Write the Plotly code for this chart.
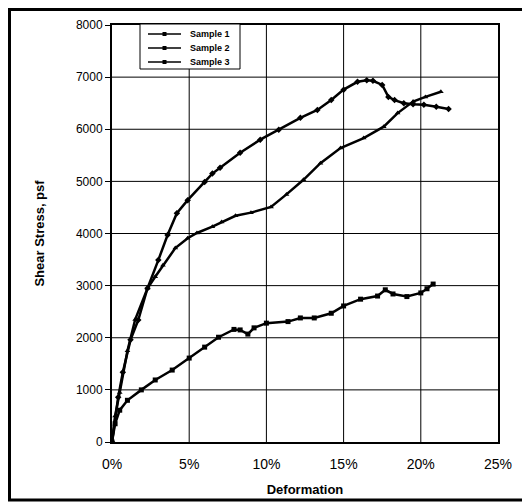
import plotly.graph_objects as go

# Deformation (%) and shear stress (psf)
s1_x = [0, 0.4, 0.7, 1.2, 1.7, 2.3, 3.0, 3.6, 4.2, 4.9, 6.0, 6.5, 7.0, 8.3, 9.6, 10.8,
        12.2, 13.3, 14.2, 15.0, 15.9, 16.5, 16.9, 17.5, 17.9, 18.3, 18.9, 19.5, 20.2, 21.0, 21.8]
s1_y = [0, 860, 1340, 1960, 2340, 2950, 3490, 3970, 4390, 4640, 4990, 5150, 5260, 5550, 5800, 5990,
        6220, 6370, 6560, 6760, 6910, 6940, 6930, 6850, 6620, 6560, 6500, 6480, 6470, 6430, 6390]

s2_x = [0, 0.2, 0.5, 1.0, 1.9, 2.8, 3.9, 5.0, 6.0, 6.9, 7.9, 8.3, 8.8, 9.2, 10.0, 11.4,
        12.2, 13.1, 14.2, 15.0, 16.1, 17.2, 17.7, 18.2, 19.1, 20.0, 20.4, 20.8]
s2_y = [0, 350, 610, 800, 1000, 1190, 1380, 1610, 1820, 2010, 2160, 2150, 2070, 2190, 2280, 2310,
        2380, 2380, 2470, 2610, 2740, 2800, 2920, 2840, 2790, 2860, 2940, 3030]

s3_x = [0, 0.2, 0.5, 1.0, 1.5, 2.3, 2.8, 3.3, 4.1, 4.9, 5.5, 6.5, 7.1, 8.0, 9.0, 10.3,
        11.3, 12.4, 13.5, 14.8, 16.3, 17.6, 18.5, 19.5, 20.3, 21.3]
s3_y = [0, 500, 950, 1750, 2350, 2950, 3170, 3390, 3720, 3910, 4010, 4130, 4220, 4340, 4400, 4510,
        4750, 5030, 5350, 5640, 5830, 6050, 6310, 6530, 6620, 6720]

series_names = ["Sample 1", "Sample 2", "Sample 3"]
series_x = [s1_x, s2_x, s3_x]
series_y = [s1_y, s2_y, s3_y]
series_symbols = ["diamond", "square", "triangle-up"]

x_ticks = [0, 0.05, 0.10, 0.15, 0.20, 0.25]
y_ticks = [0, 1000, 2000, 3000, 4000, 5000, 6000, 7000, 8000]

FONT = "Liberation Sans, Arial, sans-serif"

# figure / plot-area geometry (pixels)
W, H = 522, 496
ML, MR, MT, MB = 104, 32, 17, 62
PW, PH = W - ML - MR, H - MT - MB


def px(fx):
    return (fx - ML) / PW


def py(fy):
    return (H - MB - fy) / PH


fig = go.Figure()
for name, xs, ys, sym in zip(series_names, series_x, series_y, series_symbols):
    fig.add_trace(go.Scatter(
        x=[v / 100 for v in xs], y=ys, name=name, mode="lines+markers",
        line=dict(color="black", width=2.5),
        marker=dict(symbol=sym, size=5, color="black"),
        showlegend=False,
    ))

shapes = []
# grid lines at the tick positions
for v in x_ticks[1:-1]:
    shapes.append(dict(type="line", xref="x", yref="paper", x0=v, x1=v, y0=0, y1=1,
                       line=dict(color="black", width=1), layer="below"))
for v in y_ticks[1:-1]:
    shapes.append(dict(type="line", xref="paper", yref="y", x0=0, x1=1, y0=v, y1=v,
                       line=dict(color="black", width=1), layer="below"))

# legend box
annotations = []
shapes.append(dict(type="rect", xref="paper", yref="paper",
                   x0=px(132), x1=px(232), y0=py(61), y1=py(16),
                   fillcolor="white", line=dict(color="black", width=1), layer="above"))
for i, name in enumerate(series_names):
    fy = 26 + 14 * i
    shapes.append(dict(type="line", xref="paper", yref="paper",
                       x0=px(140), x1=px(173), y0=py(fy), y1=py(fy),
                       line=dict(color="black", width=1.5), layer="above"))
    shapes.append(dict(type="rect", xref="paper", yref="paper",
                       x0=px(154.5), x1=px(158.5), y0=py(fy + 2), y1=py(fy - 2),
                       fillcolor="black", line=dict(color="black", width=0), layer="above"))
    annotations.append(dict(xref="paper", yref="paper", x=px(180), y=py(fy),
                            xanchor="left", yanchor="middle", showarrow=False,
                            text="<b>" + name + "</b>",
                            font=dict(family=FONT, size=9, color="black")))

# outer frame
shapes.append(dict(type="rect", xref="paper", yref="paper",
                   x0=px(1.5), x1=px(519), y0=py(492), y1=py(1.5),
                   line=dict(color="black", width=3), layer="above"))

fig.update_layout(
    template="none",
    width=W, height=H,
    margin=dict(l=ML, r=MR, t=MT, b=MB),
    paper_bgcolor="white", plot_bgcolor="white",
    font=dict(family=FONT, color="black", size=12),
    showlegend=False,
    xaxis=dict(
        range=[0, 0.25], tickvals=x_ticks, tickformat=".0%",
        showgrid=False,
        showline=True, linecolor="black", linewidth=2, mirror=True,
        zeroline=False, ticks="", tickfont=dict(size=14),
        ticklabelstandoff=8,
        title=dict(text="<b>Deformation</b>", font=dict(size=13), standoff=14),
    ),
    yaxis=dict(
        range=[0, 8000], tickvals=y_ticks,
        showgrid=False,
        showline=True, linecolor="black", linewidth=2, mirror=True,
        zeroline=False, ticks="outside", ticklen=5, tickcolor="black",
        tickfont=dict(size=12),
        title=dict(text="<b>Shear Stress, psf</b>", font=dict(size=13), standoff=28),
    ),
    shapes=shapes,
    annotations=annotations,
)

fig.write_html("out.html")
